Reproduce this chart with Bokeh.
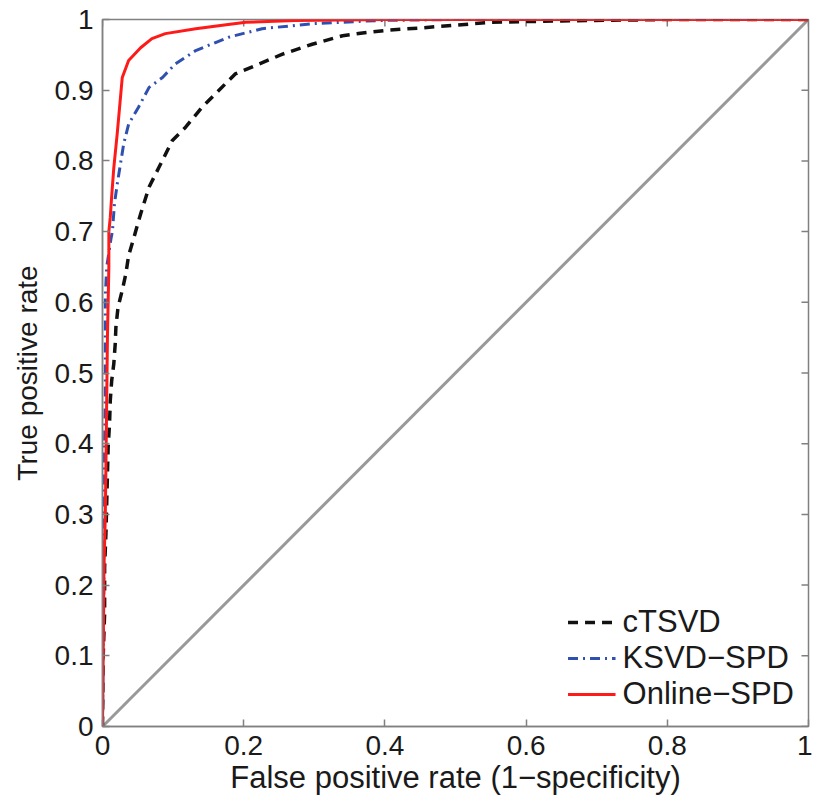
from bokeh.plotting import figure
from bokeh.models import FixedTicker, Legend, LegendItem, Range1d
from bokeh.embed import file_html
from bokeh.resources import INLINE

# ROC data
fpr_ctsvd = [0, 0.001, 0.003, 0.003, 0.005, 0.008, 0.010, 0.011, 0.013, 0.016, 0.018, 0.019,
             0.022, 0.028, 0.033, 0.037, 0.044, 0.054, 0.066, 0.080, 0.099, 0.118, 0.141,
             0.160, 0.188, 0.217, 0.255, 0.297, 0.340, 0.377, 0.405, 0.45, 0.55, 0.65, 0.80, 1.0]
tpr_ctsvd = [0, 0.10, 0.16, 0.225, 0.277, 0.395, 0.429, 0.461, 0.489, 0.513, 0.541, 0.565,
             0.593, 0.617, 0.640, 0.666, 0.690, 0.725, 0.763, 0.791, 0.829, 0.848, 0.876,
             0.895, 0.923, 0.935, 0.951, 0.965, 0.977, 0.982, 0.985, 0.988, 0.996, 0.998, 1.0, 1.0]

fpr_ksvd = [0, 0.001, 0.002, 0.002, 0.003, 0.004, 0.004, 0.006, 0.009, 0.012, 0.014, 0.017,
            0.021, 0.030, 0.037, 0.051, 0.066, 0.085, 0.103, 0.132, 0.179, 0.226, 0.297,
            0.391, 0.50, 1.0]
tpr_ksvd = [0, 0.12, 0.20, 0.31, 0.40, 0.47, 0.61, 0.65, 0.67, 0.69, 0.70, 0.74,
            0.768, 0.824, 0.852, 0.876, 0.904, 0.918, 0.937, 0.956, 0.975, 0.987, 0.994,
            0.9986, 1.0, 1.0]

fpr_online = [0, 0.001, 0.002, 0.004, 0.005, 0.007, 0.009, 0.009, 0.011, 0.013, 0.016, 0.021,
              0.028, 0.037, 0.054, 0.070, 0.089, 0.132, 0.178, 0.203, 0.273, 0.40, 1.0]
tpr_online = [0, 0.10, 0.22, 0.30, 0.38, 0.55, 0.65, 0.70, 0.72, 0.75, 0.79, 0.84,
              0.918, 0.942, 0.96, 0.973, 0.98, 0.987, 0.993, 0.996, 0.9986, 1.0, 1.0]

diag_x = [0, 1]
diag_y = [0, 1]

yticks = [0, 0.1, 0.2, 0.3, 0.4, 0.5, 0.6, 0.7, 0.8, 0.9, 1.0]
xticks = [0, 0.2, 0.4, 0.6, 0.8, 1.0]

FONT = "Liberation Sans"
AX = "#808080"
FW, FH = 706, 707
TICK = 7  # px

p = figure(frame_width=FW, frame_height=FH, output_backend="svg", toolbar_location=None,
           x_range=Range1d(0, 1), y_range=Range1d(0, 1),
           min_border_left=102, min_border_top=19, min_border_right=4, min_border_bottom=74)
p.xgrid.visible = False
p.ygrid.visible = False
p.outline_line_color = AX
p.outline_line_width = 1.5
p.background_fill_color = "white"

p.xaxis.ticker = FixedTicker(ticks=xticks)
p.yaxis.ticker = FixedTicker(ticks=yticks)
p.xaxis.major_label_overrides = {0: "0", 1: "1"}
p.yaxis.major_label_overrides = {0: "0", 1: "1"}
p.xaxis.axis_label = "False positive rate (1\u2212specificity)"
p.yaxis.axis_label = "True positive rate"

for ax in [p.xaxis[0], p.yaxis[0]]:
    ax.major_tick_in = TICK
    ax.major_tick_out = 0
    ax.minor_tick_in = 0
    ax.minor_tick_out = 0
    ax.axis_line_color = AX
    ax.axis_line_width = 1.5
    ax.major_tick_line_color = AX
    ax.major_tick_line_width = 1.5
    ax.major_label_text_font = FONT
    ax.major_label_text_font_size = "28px"
    ax.major_label_text_color = "#1a1a1a"
    ax.axis_label_text_font = FONT
    ax.axis_label_text_font_style = "normal"
    ax.axis_label_text_color = "#1a1a1a"
    ax.major_label_standoff = 9
p.xaxis.axis_label_text_font_size = "31px"
p.yaxis.axis_label_text_font_size = "28px"
p.xaxis.axis_label_standoff = 2
p.yaxis.axis_label_standoff = 9

# inside ticks on the top and right edges of the box
tx = TICK / FW
ty = TICK / FH
p.segment(x0=xticks, y0=[1.0] * len(xticks), x1=xticks, y1=[1.0 - ty] * len(xticks),
          line_color=AX, line_width=1.5)
p.segment(x0=[1.0] * len(yticks), y0=yticks, x1=[1.0 - tx] * len(yticks), y1=yticks,
          line_color=AX, line_width=1.5)

p.line(diag_x, diag_y, line_color="#999999", line_width=3)
r1 = p.line(fpr_ctsvd, tpr_ctsvd, line_color="#111111", line_width=3.5, line_dash="10 7")
r2 = p.line(fpr_ksvd, tpr_ksvd, line_color="#3050b0", line_width=3, line_dash="10 5 2 5")
r3 = p.line(fpr_online, tpr_online, line_color="#ff1a1a", line_width=3)

legend = Legend(items=[LegendItem(label="cTSVD", renderers=[r1]),
                       LegendItem(label="KSVD\u2212SPD", renderers=[r2]),
                       LegendItem(label="Online\u2212SPD", renderers=[r3])],
                location="bottom_right")
legend.label_text_font = FONT
legend.label_text_font_size = "31px"
legend.label_text_color = "#1a1a1a"
legend.border_line_color = None
legend.background_fill_alpha = 0
legend.glyph_width = 48
legend.label_standoff = 7
legend.spacing = 0
legend.margin = 14
legend.padding = 12
p.add_layout(legend, "center")

open("out.html", "w").write(file_html(p, INLINE))
